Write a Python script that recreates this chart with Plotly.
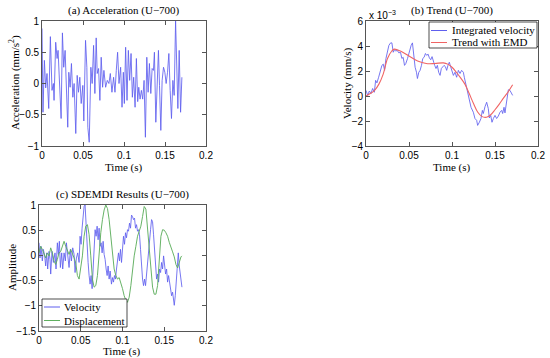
import plotly.graph_objects as go

# ---------------- data ----------------
# (a) acceleration, time in ms
t_acc = [0, 1.2, 2.9, 4.5, 6.1, 8.2, 10.2, 12.2, 13.9, 14.7,
         16.7, 18.4, 19.6, 21.2, 23.3, 24.9, 26.5, 28.2, 29.8, 31.4,
         32.7, 34.3, 35.9, 37.6, 39.2, 41.2, 42.9, 44.5, 46.1, 47.8,
         49.8, 51.0, 53.1, 54.7, 55.9, 57.6, 59.6, 61.2, 62.9, 64.5,
         66.1, 67.3, 69.0, 70.6, 72.2, 73.9, 75.5, 77.6, 79.6, 81.6,
         83.3, 85.3, 87.3, 89.0, 90.6, 92.2, 93.9, 95.9, 97.6, 99.2,
         100.4, 102.0, 103.7, 105.3, 106.9, 108.6, 110.2, 111.8, 113.5, 115.1,
         116.7, 118.0, 119.6, 121.2, 122.8, 124.5, 126.1, 127.8, 129.4, 131.0,
         132.7, 134.3, 135.9, 137.1, 138.8, 140.4, 142.0, 143.3, 144.9, 146.5,
         148.2, 149.8, 151.4, 153.1, 154.7, 156.3, 157.9, 159.6, 161.2, 162.9,
         164.5, 165.7, 167.3, 169.0, 170.6]
acc = [0.88, -0.46, 0.37, -0.07, 0.16, -0.40, 0.75, -0.11, 0.0, -0.27,
       0.66, 0.40, 0.53, 0.08, -0.56, 0.81, 0.26, 0.53, -0.11, -0.70,
       0.18, -0.06, 0.32, -0.22, 0.0, -0.80, 0.13, -0.14, 0.10, -0.32,
       -0.03, -0.60, 0.69, 0.26, -0.70, -0.94, 0.26, 0.0, 0.61, -0.16,
       0.73, 0.16, 0.24, -0.27, 0.42, -0.06, 0.21, -0.06, 0.05, 0.0,
       0.16, -0.14, 0.10, -0.14, 0.21, 0.50, 0.0, 0.26, -0.38, 0.18,
       -0.32, 0.58, -0.27, 0.53, 0.05, 0.48, -0.22, 0.10, -0.38, 0.40,
       -0.29, -0.06, -0.25, -0.11, -0.25, 0.05, -0.86, 0.42, -0.14, 0.32,
       -0.16, 0.24, 0.21, 0.50, -0.62, -0.16, 0.53, -0.03, -0.75, 0.05,
       0.26, 0.18, 0.0, 0.18, 0.48, -0.11, -0.56, 0.05, -0.19, 1.0,
       0.10, -0.40, 0.53, -0.46, 0.10]

# (b) integrated velocity (x 10^-3 mm/s), time in ms
t_vel = [0, 1.9, 3.9, 5.8, 7.7, 9.7, 11.2, 12.7, 14.7, 16.6,
         18.5, 20.1, 21.6, 23.2, 24.7, 26.6, 28.6, 30.1, 31.7, 33.2,
         34.7, 36.3, 38.2, 40.1, 41.7, 43.2, 44.8, 46.3, 48.3, 50.6,
         52.5, 54.0, 55.6, 57.1, 58.7, 59.8, 61.4, 62.9, 64.5, 66.0,
         67.6, 69.1, 70.6, 72.2, 73.7, 75.3, 76.8, 78.4, 79.9, 81.4,
         83.0, 84.5, 86.1, 87.6, 89.2, 90.7, 92.3, 93.8, 95.3, 96.9,
         98.4,
         101.6, 103.5, 105.4, 107.4, 109.3, 111.2, 113.2, 114.3, 116.3, 118.2,
         120.2, 122.1, 124.8, 126.7, 128.7, 129.8, 131.8, 133.7, 135.3, 136.4,
         138.4, 140.3, 142.2, 143.4, 145.0, 146.5, 148.1, 150.0, 151.9, 153.9,
         155.8, 157.8, 158.9, 160.5, 161.6, 163.6, 165.5, 167.4, 169.0, 170.5]
vel = [0.45, 0.05, 0.4, 0.2, 0.6, 0.3, 1.25, 1.05, 1.5, 2.0,
       2.45, 2.55, 2.05, 3.0, 3.4, 4.05, 4.25, 4.25, 3.5, 3.7,
       3.6, 3.65, 3.45, 3.5, 3.0, 3.1, 2.45, 2.6, 3.0, 3.65,
       4.05, 4.25, 3.25, 2.3, 1.9, 1.4, 1.9, 2.05, 2.45, 3.0,
       3.1, 3.4, 3.25, 3.35, 3.05, 2.9, 3.15, 2.7, 2.45, 2.2,
       2.45, 1.9, 1.65, 2.2, 2.35, 2.45, 2.35, 2.05, 2.45, 2.7,
       2.35,
       1.65, 1.9, 1.5, 2.05, 1.8, 2.05, 1.9, 1.5, 0.85, 0.2,
       -0.35, -0.9, -1.3, -1.8, -1.95, -2.35, -2.1, -1.8, -1.15, -1.4,
       -0.85, -0.5, -1.0, -1.75, -1.55, -2.1, -1.8, -1.55, -1.8, -1.6,
       -1.3, -1.15, -1.4, -0.9, -1.35, -0.35, 0.5, 0.45, 0.2, 0.05]

# (b) EMD trend
t_trend = [0, 5, 10, 15, 20, 25, 30, 33, 40, 50, 60, 70, 80, 90, 95,
           100, 105, 110, 115, 120, 125, 130, 135, 140, 145, 150, 155, 160, 165, 170.5]
trend = [0.0, 0.2, 0.45, 0.95, 1.75, 3.0, 3.6, 3.75, 3.6, 3.2, 2.8, 2.6, 2.6, 2.65, 2.55,
         2.3, 1.9, 1.45, 0.95, 0.2, -0.6, -1.3, -1.65, -1.7, -1.5, -1.1, -0.65, -0.15, 0.3, 0.9]

# (c) SDEMDI velocity
t_sv = [0, 1.2, 2.4, 4.0, 5.2, 6.8, 8.0, 9.2, 10.4, 12.0,
        13.2, 14.0, 15.6, 17.2, 19.2, 20.4, 22.0, 23.2, 24.4, 25.6,
        27.2, 28.4, 30.0, 31.6, 32.8, 34.4, 36.0, 37.6, 38.8, 40.4,
        42.0, 43.2, 44.8, 46.4, 48.0, 49.2, 50.4, 51.6, 52.8, 54.0,
        55.2, 56.4, 57.6, 58.8, 60.0, 61.2, 62.4, 63.6, 64.8, 66.0,
        67.2, 68.4, 69.6, 70.8, 72.0, 73.2, 74.4, 75.6, 76.8, 78.0,
        79.2, 80.4, 81.6, 82.8, 84.0, 85.2, 86.8, 88.0, 89.2, 90.4,
        91.6, 92.8, 94.0, 95.2, 96.4, 97.6, 98.8, 100.0, 101.2, 102.4,
        103.6, 104.8, 106.0, 107.2, 108.4, 109.6, 110.8, 112.0, 113.2, 114.4,
        115.6, 116.8, 118.0, 119.2, 120.4, 121.6, 122.8, 124.0, 125.2, 126.4,
        127.6, 128.8, 130.0, 131.2, 132.4, 133.6, 134.8, 136.0, 137.2, 138.4,
        139.6, 140.8, 142.0, 143.2, 144.4, 145.6, 146.8, 148.0, 149.2, 150.4,
        151.6, 152.8, 154.0, 155.2, 156.4, 157.6, 158.8, 160.0, 161.2, 162.0,
        163.2, 164.4, 165.6, 166.8, 168.0, 169.2, 170.4, 171.2]
sdv = [0.25, -0.05, 0.18, -0.11, 0.12, -0.01, -0.21, 0.05, -0.27, 0.08,
       -0.08, -0.37, 0.08, -0.14, 0.05, -0.27, 0.25, 0.02, 0.28, -0.24,
       0.05, -0.27, 0.05, -0.11, 0.25, -0.01, -0.24, 0.12, -0.11, 0.15,
       0.02, -0.34, -0.05, 0.05, -0.14, 0.38, 0.22, 0.54, 0.77, 0.97,
       1.0, 0.54, 0.12, -0.14, -0.40, -0.57, -0.40, -0.66, -0.27, 0.15,
       0.51, 0.38, 0.58, 0.31, 0.54, 0.18, 0.25, 0.05, 0.28, 0.02,
       -0.08, -0.27, -0.40, -0.21, -0.47, -0.31, -0.57, -0.44, -0.53, -0.40,
       -0.47, -0.27, -0.14, 0.05, -0.11, 0.12, -0.14, 0.18, 0.38, 0.22,
       0.45, 0.35, 0.51, 0.48, 0.64, 0.54, 0.80, 0.77, 0.71, 0.74,
       0.54, 0.61, 0.48, 0.51, 0.41, 0.12, -0.21, -0.47, -0.60, -0.47,
       -0.60, -0.34, -0.11, 0.12, 0.38, 0.51, 0.71, 0.67, 0.41, 0.12,
       -0.21, -0.47, -0.37, -0.53, -0.27, -0.34, -0.14, -0.27, -0.01, -0.21,
       -0.37, -0.27, -0.53, -0.40, -0.57, -0.73, -0.80, -0.73, -0.89, -0.99,
       -0.80, -0.53, -0.27, 0.05, -0.21, -0.40, -0.47, -0.63]

# (c) SDEMDI displacement
t_sd = [0, 2, 4, 6, 8, 10, 12, 14, 16, 18, 20, 22, 24, 26, 28, 30, 32, 34, 36, 38,
        40, 42, 44, 46, 48, 50, 52, 54, 56, 58, 60, 62, 64, 66, 68, 70, 72, 74, 76, 78,
        80, 82, 84, 86, 88, 90, 92, 94, 96, 98, 100, 102, 104, 106, 108, 110, 112, 114, 116, 118,
        120, 122, 124, 126, 128, 130, 132, 134, 136, 138, 140, 142, 144, 146, 148, 150, 152, 154,
        156, 158, 160, 162, 164, 166, 168, 170, 171.2]
sdd = [0.05, 0.18, 0.12, 0.02, -0.05, 0.05, -0.01, 0.15, 0.05, -0.11,
       -0.18, -0.08, 0.05, 0.08, 0.18, 0.28, 0.18, 0.08, 0.02, 0.12,
       0.05, -0.05, -0.15, -0.40, -0.47, -0.27, -0.01, 0.38, 0.58, 0.61,
       0.41, -0.01, -0.47, -0.63, -0.60, -0.40, 0.05, 0.45, 0.71, 0.90,
       1.0, 0.93, 0.71, 0.38, -0.01, -0.27, -0.40, -0.47, -0.44, -0.53,
       -0.66, -0.80, -0.89, -0.93, -0.83, -0.60, -0.27, -0.01, 0.18, 0.38,
       0.48, 0.58, 0.77, 0.97,
       0.92, 0.55, 0.05, -0.35, -0.63, -0.77, -0.77, -0.6, -0.1, 0.38, 0.51,
       0.50, 0.45, 0.38, 0.26, 0.14, 0.07, -0.03, -0.18, -0.25, -0.13, -0.03, -0.01]

x_ticks = [0, 0.05, 0.1, 0.15, 0.2]
x_ticktext = ["0", "0.05", "0.1", "0.15", "0.2"]
legend_b = ["Integrated velocity", "Trend with EMD"]
legend_c = ["Velocity", "Displacement"]

# ---------------- figure ----------------
W, H = 550, 358
BLUE = "rgb(95,95,238)"
RED = "rgb(240,100,100)"
GREEN = "rgb(95,175,95)"
SERIF = "Liberation Serif, Times New Roman, serif"
SANS = "Liberation Sans, Arial, sans-serif"


def px(x):
    return x / W


def py(y):
    return 1 - y / H


def ms(lst):
    return [v / 1000.0 for v in lst]


fig = go.Figure()
fig.add_trace(go.Scatter(x=ms(t_acc), y=acc, mode="lines", line=dict(color=BLUE, width=0.85),
                         xaxis="x", yaxis="y", showlegend=False))
fig.add_trace(go.Scatter(x=ms(t_vel), y=vel, mode="lines", name=legend_b[0],
                         line=dict(color=BLUE, width=0.85), xaxis="x2", yaxis="y2", showlegend=False))
fig.add_trace(go.Scatter(x=ms(t_trend), y=trend, mode="lines", name=legend_b[1],
                         line=dict(color=RED, width=1.1, shape="spline"), xaxis="x2", yaxis="y2",
                         showlegend=False))
fig.add_trace(go.Scatter(x=ms(t_sv), y=sdv, mode="lines", name=legend_c[0],
                         line=dict(color=BLUE, width=0.85), xaxis="x3", yaxis="y3", showlegend=False))
fig.add_trace(go.Scatter(x=ms(t_sd), y=sdd, mode="lines", name=legend_c[1],
                         line=dict(color=GREEN, width=0.95), xaxis="x3", yaxis="y3", showlegend=False))

common = dict(showline=True, linecolor="#555", linewidth=0.8, mirror="ticks", ticks="inside",
              ticklen=4, tickcolor="#555", tickwidth=0.8, showgrid=False, zeroline=False,
              automargin=False, tickfont=dict(family=SANS, size=10, color="black"), fixedrange=True)

A = dict(x0=42, x1=206, y0=21, y1=146)
B = dict(x0=366, x1=538, y0=21, y1=146)
C = dict(x0=39, x1=206, y0=205, y1=331)

fig.update_layout(
    width=W, height=H, margin=dict(l=0, r=0, t=0, b=0, autoexpand=False),
    paper_bgcolor="white", plot_bgcolor="white", showlegend=False,
    xaxis=dict(domain=[px(A["x0"]), px(A["x1"])], range=[0, 0.2], tickvals=x_ticks,
               ticktext=x_ticktext, anchor="y", **common),
    yaxis=dict(domain=[py(A["y1"]), py(A["y0"])], range=[-1, 1], tickvals=[-1, -0.5, 0, 0.5, 1],
               ticktext=["\u22121", "\u22120.5", "0", "0.5", "1"], anchor="x", **common),
    xaxis2=dict(domain=[px(B["x0"]), px(B["x1"])], range=[0, 0.2], tickvals=x_ticks,
                ticktext=x_ticktext, anchor="y2", **common),
    yaxis2=dict(domain=[py(B["y1"]), py(B["y0"])], range=[-4, 6], tickvals=[-4, -2, 0, 2, 4, 6],
                ticktext=["\u22124", "\u22122", "0", "2", "4", "6"], anchor="x2", **common),
    xaxis3=dict(domain=[px(C["x0"]), px(C["x1"])], range=[0, 0.2], tickvals=x_ticks,
                ticktext=x_ticktext, anchor="y3", **common),
    yaxis3=dict(domain=[py(C["y1"]), py(C["y0"])], range=[-1.5, 1],
                tickvals=[-1.5, -1, -0.5, 0, 0.5, 1],
                ticktext=["\u22121.5", "\u22121", "\u22120.5", "0", "0.5", "1"], anchor="x3", **common),
)

ann = []
shapes = []


def txt(x, y, s, size=11, angle=0, family=SERIF, xanchor="center", yanchor="middle"):
    ann.append(dict(x=px(x), y=py(y), xref="paper", yref="paper", text=s, showarrow=False,
                    textangle=angle, xanchor=xanchor, yanchor=yanchor,
                    font=dict(family=family, size=size, color="black")))


def legend_box(x0, y0, x1, y1, entries, sample_x0, sample_x1, text_x, rows):
    shapes.append(dict(type="rect", xref="paper", yref="paper", x0=px(x0), x1=px(x1),
                       y0=py(y1), y1=py(y0), fillcolor="white",
                       line=dict(color="black", width=0.7), layer="above"))
    for (name, color), ry in zip(entries, rows):
        shapes.append(dict(type="line", xref="paper", yref="paper", x0=px(sample_x0),
                           x1=px(sample_x1), y0=py(ry), y1=py(ry),
                           line=dict(color=color, width=1), layer="above"))
        txt(text_x, ry, name, xanchor="left")


txt(124, 10, "(a) Acceleration (U\u2212700)")
txt(452, 10, "(b) Trend (U\u2212700)")
txt(122, 194, "(c) SDEMDI Results (U\u2212700)")
txt(124, 168, "Time (s)")
txt(452, 168, "Time (s)")
txt(122, 351.5, "Time (s)")
txt(14, 83, "Acceleration (mm/s<sup>2</sup>)", angle=-90)
txt(347, 83, "Velocity (mm/s)", angle=-90)
txt(12, 268, "Amplitude", angle=-90)
txt(367, 15, "x 10<sup>\u22123</sup>", size=10, family=SANS, xanchor="left")

legend_box(429, 22, 537, 48, [(legend_b[0], BLUE), (legend_b[1], RED)], 431, 447, 450, [30.5, 42.5])
legend_box(42, 299, 127, 327, [(legend_c[0], BLUE), (legend_c[1], GREEN)], 44, 60, 62, [307, 320.5])

fig.update_layout(annotations=ann, shapes=shapes)

fig.write_html("out.html", config={"displayModeBar": False},
               post_script="document.body.style.margin='0';")
